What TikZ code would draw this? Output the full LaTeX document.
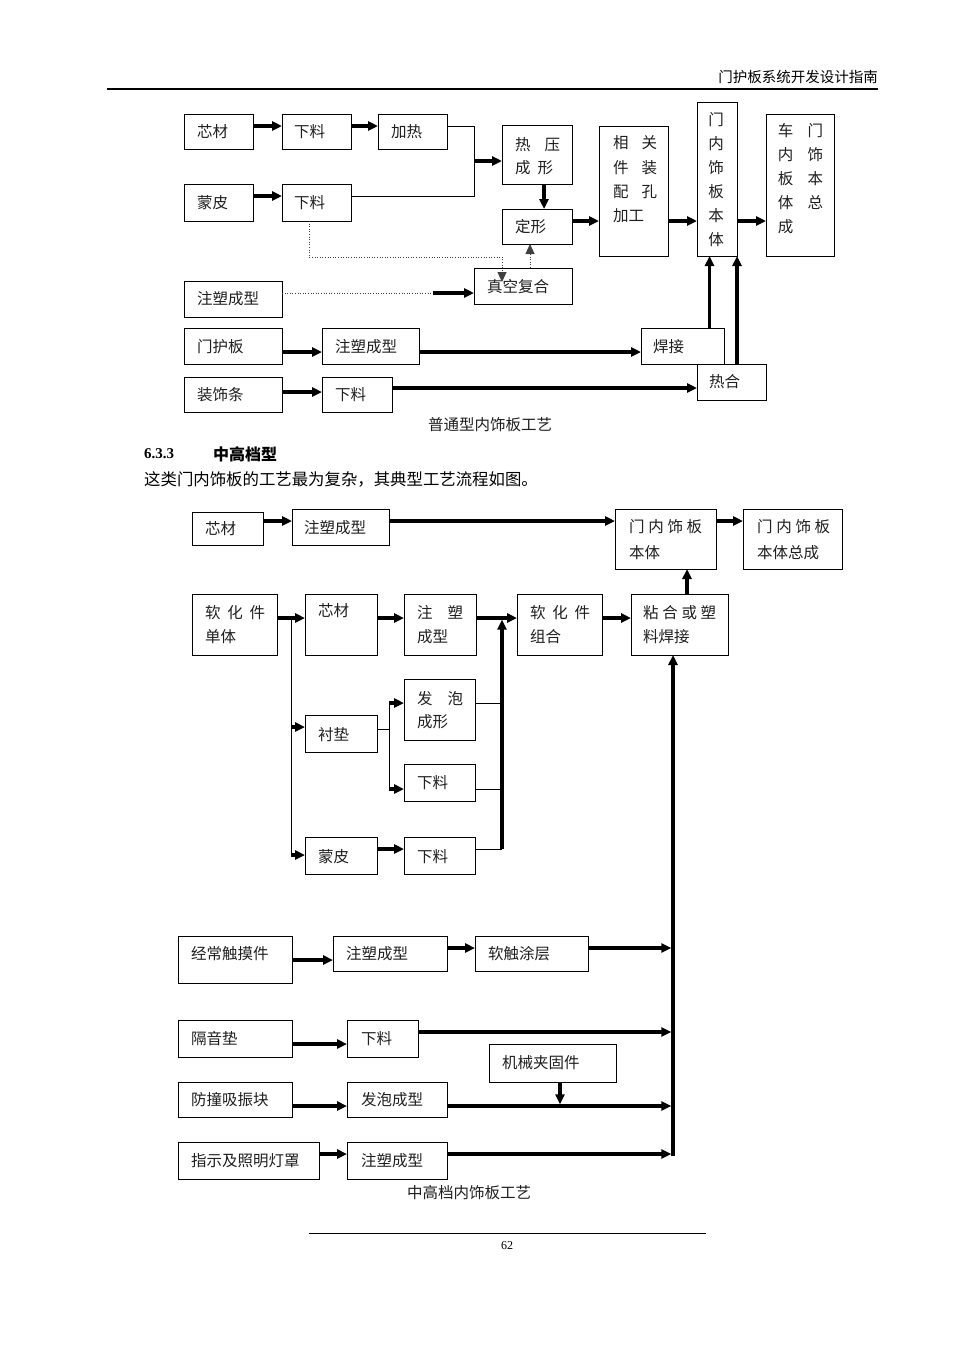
\documentclass[tikz,border=0pt]{standalone}
\usepackage{fontspec}
\setmainfont{Liberation Serif}
\newfontfamily\cjk{Noto Sans CJK SC}
\usetikzlibrary{arrows.meta,calc}
\newcommand\mybox[5]{\node[bx,minimum width={(#4-#2)*1pt},minimum height={(#5-#3)*1pt}] (#1) at (#2,#3) {};}
\newcommand\mytx[4]{\node[tx] (#1) at (#2,#3) {#4};}
\newcommand\spr[2]{\makebox[#1pt][s]{#2}}
\tikzset{
  bx/.style={draw, line width=0.95pt, inner sep=0pt, outer sep=0pt, anchor=north west},
  tx/.style={font=\cjk\fontsize{15.5}{18}\selectfont, inner sep=0pt, anchor=west, text height=12pt, text depth=1.5pt, text=black!88},
  tk/.style={line width=3.2pt, -{Triangle[length=10pt,width=9pt]}},
  thn/.style={line width=1pt},
  dt/.style={line width=0.9pt, dash pattern=on 1pt off 1.6pt, black!75},
  dta/.style={dt, -{Triangle[length=10pt,width=9pt]}},
}
\begin{document}
\begin{tikzpicture}[x=1pt,y=-1pt]
\useasboundingbox[fill=white] (0,0) rectangle (960,1357);
% header / footer
\node[font=\cjk\fontsize{14.5}{16}\selectfont, anchor=east, inner sep=0pt] (hdr) at (878,77) {门护板系统开发设计指南};
\draw[line width=1.3pt] (107,89) -- (878,89);
\draw[line width=0.8pt] (309,1233) -- (706,1233);
\node[font=\fontsize{12}{14}\selectfont, inner sep=0pt] (pg) at (507,1246) {62};

% ===== section 1 =====
\mybox{a1}{184}{114}{253}{149}
\mybox{a2}{282}{114}{351}{149}
\mybox{a3}{378}{114}{447}{149}
\mybox{a4}{184}{184}{253}{221}
\mybox{a5}{282}{184}{351}{221}
\mybox{a6}{502}{125}{572}{184}
\mybox{a7}{502}{209}{572}{244}
\mybox{a8}{474}{268}{572}{304}
\mybox{a9}{184}{281}{282}{317}
\mybox{a10}{599}{126}{668}{256}
\mybox{a11}{697}{102}{737}{256}
\mybox{a12}{766}{114}{834}{256}
\mybox{a13}{641}{328}{724}{364}
\mybox{a14}{697}{364}{766}{400}
\mybox{a15}{184}{328}{282}{364}
\mybox{a16}{322}{328}{419}{364}
\mybox{a17}{184}{377}{282}{412}
\mybox{a18}{322}{377}{392}{412}

\mytx{ta1}{197}{132}{芯材}
\mytx{ta2}{294}{132}{下料}
\mytx{ta3}{391}{132}{加热}
\mytx{ta4}{197}{203}{蒙皮}
\mytx{ta5}{294}{203}{下料}
\mytx{ta6}{515}{145}{\spr{45}{热\hfill 压}}
\mytx{ta6b}{515}{168}{\spr{38}{成\hfill 形}}
\mytx{ta7}{515}{227}{定形}
\mytx{ta8}{487}{287}{真空复合}
\mytx{ta9}{197}{299}{注塑成型}
\mytx{ta10}{613}{143}{\spr{44}{相\hfill 关}}
\mytx{ta10b}{613}{168}{\spr{44}{件\hfill 装}}
\mytx{ta10c}{613}{192}{\spr{44}{配\hfill 孔}}
\mytx{ta10d}{613}{216}{加工}
\foreach \c [count=\i] in {门,内,饰,板,本,体}
  \node[tx,anchor=center] (tv\i) at (716,{96+24*\i}) {\c};
\foreach \c [count=\i] in {车,内,板,体,成}
  \node[tx,anchor=center] (tw\i) at (785.5,{107+24*\i}) {\c};
\foreach \c [count=\i] in {门,饰,本,总}
  \node[tx,anchor=center] (tz\i) at (815.3,{107+24*\i}) {\c};
\mytx{ta13}{653}{347}{焊接}
\mytx{ta14}{709}{382}{热合}
\mytx{ta15}{197}{347}{门护板}
\mytx{ta16}{335}{347}{注塑成型}
\mytx{ta17}{197}{395}{装饰条}
\mytx{ta18}{335}{395}{下料}
\node[tx,anchor=center] (cap1) at (490,425) {普通型内饰板工艺};

\coordinate (ya) at (0,126);
\coordinate (yb) at (0,196);
\coordinate (ja) at (474,161);
\draw[tk] (a1.east|-ya) -- (a2.west|-ya);
\draw[tk] (a2.east|-ya) -- (a3.west|-ya);
\draw[tk] (a4.east|-yb) -- (a5.west|-yb);
\draw[thn] (a3.east|-ya) -| (ja);
\draw[thn] (a5.east|-yb) -| (ja);
\draw[tk] (ja) -- (a6.west|-ja);
\coordinate (xa) at (544,0);
\draw[tk] (a6.south-|xa) -- (a7.north-|xa);
\coordinate (xb) at (309,0);
\coordinate (da) at (502,257);
\coordinate (db) at (502,282);
\draw[dta] (a5.south-|xb) |- (da) -- (db);
\coordinate (xc) at (530,0);
\draw[dta] (a8.north-|xc) -- (a7.south-|xc);
\coordinate (dc) at (433,293);
\draw[dt] (a9.east|-dc) -- (dc);
\draw[tk] (dc) -- (a8.west|-dc);
\coordinate (yc) at (0,221);
\draw[tk] (a7.east|-yc) -- (a10.west|-yc);
\draw[tk] (a10.east|-yc) -- (a11.west|-yc);
\draw[tk] (a11.east|-yc) -- (a12.west|-yc);
\coordinate (xd) at (709.5,0);
\draw[tk] (a13.north-|xd) -- (a11.south-|xd);
\coordinate (xe) at (737,0);
\draw[tk] (a14.north-|xe) -- (a11.south-|xe);
\coordinate (yd) at (0,352);
\draw[tk] (a15.east|-yd) -- (a16.west|-yd);
\draw[tk] (a16.east|-yd) -- (a13.west|-yd);
\coordinate (ye) at (0,392);
\draw[tk] (a17.east|-ye) -- (a18.west|-ye);
\coordinate (yf) at (0,388);
\draw[tk] (a18.east|-yf) -- (a14.west|-yf);

% ===== heading =====
\node[anchor=west, inner sep=0pt, font=\bfseries\fontsize{15}{18}\selectfont] (h1) at (144,454) {6.3.3};
\node[anchor=west, inner sep=0pt, font=\cjk\bfseries\fontsize{16}{18}\selectfont] (h2) at (213,454) {中高档型};
\node[anchor=west, inner sep=0pt, font=\cjk\fontsize{16.4}{18}\selectfont] (body) at (144,479) {这类门内饰板的工艺最为复杂，其典型工艺流程如图。};

% ===== section 2 =====
\mybox{b1}{192}{512}{263}{545}
\mybox{b2}{292}{509}{389}{545}
\mybox{b3}{615}{509}{716}{569}
\mybox{b4}{743}{509}{842}{569}
\mybox{b5}{192}{594}{277}{655}
\mybox{b6}{305}{594}{377}{655}
\mybox{b7}{404}{594}{476}{655}
\mybox{b8}{517}{594}{602}{655}
\mybox{b9}{631}{594}{728}{655}
\mybox{b10}{404}{679}{475}{740}
\mybox{b11}{305}{715}{377}{752}
\mybox{b12}{404}{764}{475}{801}
\mybox{b13}{305}{837}{377}{874}
\mybox{b14}{404}{837}{475}{874}
\mybox{b15}{178}{936}{292}{983}
\mybox{b16}{333}{936}{447}{971}
\mybox{b17}{475}{936}{588}{971}
\mybox{b18}{178}{1020}{292}{1057}
\mybox{b19}{347}{1020}{418}{1057}
\mybox{b20}{489}{1044}{616}{1082}
\mybox{b21}{178}{1082}{292}{1117}
\mybox{b22}{347}{1082}{447}{1117}
\mybox{b23}{178}{1142}{319}{1179}
\mybox{b24}{347}{1142}{447}{1179}

\mytx{tb1}{205}{529}{芯材}
\mytx{tb2}{304}{528}{注塑成型}
\mytx{tb3}{629}{527}{\spr{73}{门\hfill 内\hfill 饰\hfill 板}}
\mytx{tb3b}{629}{553}{本体}
\mytx{tb4}{757}{527}{\spr{73}{门\hfill 内\hfill 饰\hfill 板}}
\mytx{tb4b}{757}{553}{本体总成}
\mytx{tb5}{205}{613}{\spr{60}{软\hfill 化\hfill 件}}
\mytx{tb5b}{205}{637}{单体}
\mytx{tb6}{318}{611}{芯材}
\mytx{tb7}{417}{613}{\spr{46}{注\hfill 塑}}
\mytx{tb7b}{417}{637}{成型}
\mytx{tb8}{530}{613}{\spr{60}{软\hfill 化\hfill 件}}
\mytx{tb8b}{530}{637}{组合}
\mytx{tb9}{643}{613}{\spr{73}{粘\hfill 合\hfill 或\hfill 塑}}
\mytx{tb9b}{643}{637}{料焊接}
\mytx{tb10}{417}{699}{\spr{46}{发\hfill 泡}}
\mytx{tb10b}{417}{722}{成形}
\mytx{tb11}{318}{735}{衬垫}
\mytx{tb12}{417}{783}{下料}
\mytx{tb13}{318}{857}{蒙皮}
\mytx{tb14}{417}{857}{下料}
\mytx{tb15}{191}{954}{经常触摸件}
\mytx{tb16}{346}{954}{注塑成型}
\mytx{tb17}{488}{954}{软触涂层}
\mytx{tb18}{191}{1039}{隔音垫}
\mytx{tb19}{361}{1039}{下料}
\mytx{tb20}{502}{1063}{机械夹固件}
\mytx{tb21}{191}{1100}{防撞吸振块}
\mytx{tb22}{361}{1100}{发泡成型}
\mytx{tb23}{191}{1161}{指示及照明灯罩}
\mytx{tb24}{361}{1161}{注塑成型}
\node[tx,anchor=center] (cap2) at (469,1193) {中高档内饰板工艺};

\coordinate (yg) at (0,521);
\draw[tk] (b1.east|-yg) -- (b2.west|-yg);
\draw[tk] (b2.east|-yg) -- (b3.west|-yg);
\draw[tk] (b3.east|-yg) -- (b4.west|-yg);
\coordinate (yh) at (0,618);
\draw[tk] (b5.east|-yh) -- (b6.west|-yh);
\draw[tk] (b6.east|-yh) -- (b7.west|-yh);
\draw[tk] (b7.east|-yh) -- (b8.west|-yh);
\draw[tk] (b8.east|-yh) -- (b9.west|-yh);
\coordinate (xf) at (687,0);
\draw[tk] (b9.north-|xf) -- (b3.south-|xf);
% foam / trim branch
\coordinate (xg) at (502,0);
\coordinate (jb) at (502,849);
\coordinate (yi) at (0,703);
\coordinate (ym) at (0,789);
\coordinate (yn) at (0,849);
\draw[tk] (jb) -- ([yshift=-1.6pt]xg|-yh);
\draw[thn] (b10.east|-yi) -- (xg|-yi);
\draw[thn] (b12.east|-ym) -- (xg|-ym);
\draw[thn] (b14.east|-yn) -- (jb);
% left distributor
\coordinate (xh) at (291,0);
\coordinate (yj) at (0,727);
\coordinate (yk) at (0,855);
\draw[thn] (xh|-yh) -- (xh|-yk);
\draw[tk] (xh|-yj) -- (b11.west|-yj);
\draw[tk] (xh|-yk) -- (b13.west|-yk);
% lining branch
\coordinate (xi) at (389,0);
\coordinate (yl) at (0,729);
\draw[thn] (b11.east|-yl) -- (xi|-yl);
\draw[thn] (xi|-yi) -- (xi|-ym);
\draw[tk] (xi|-yi) -- (b10.west|-yi);
\draw[tk] (xi|-ym) -- (b12.west|-ym);
\draw[tk] (b13.east|-yn) -- (b14.west|-yn);
% bottom group
\coordinate (xj) at (673,0);
\coordinate (yo) at (0,960);
\coordinate (yp) at (0,948);
\coordinate (yq) at (0,1044);
\coordinate (yr) at (0,1032);
\coordinate (ys) at (0,1106);
\coordinate (yt) at (0,1154);
\draw[tk] ([yshift=-1.6pt]xj|-yt) -- (b9.south-|xj);
\draw[tk] (b15.east|-yo) -- (b16.west|-yo);
\draw[tk] (b16.east|-yp) -- (b17.west|-yp);
\draw[tk] (b17.east|-yp) -- ([xshift=-1.6pt]xj|-yp);
\draw[tk] (b18.east|-yq) -- (b19.west|-yq);
\draw[tk] (b19.east|-yr) -- ([xshift=-1.6pt]xj|-yr);
\draw[tk] (b21.east|-ys) -- (b22.west|-ys);
\draw[tk] (b22.east|-ys) -- ([xshift=-1.6pt]xj|-ys);
\coordinate (xk) at (560,0);
\draw[tk] (b20.south-|xk) -- ([yshift=1.6pt]xk|-ys);
\draw[tk] (b23.east|-yt) -- (b24.west|-yt);
\draw[tk] (b24.east|-yt) -- ([xshift=-1.6pt]xj|-yt);
\end{tikzpicture}
\end{document}
